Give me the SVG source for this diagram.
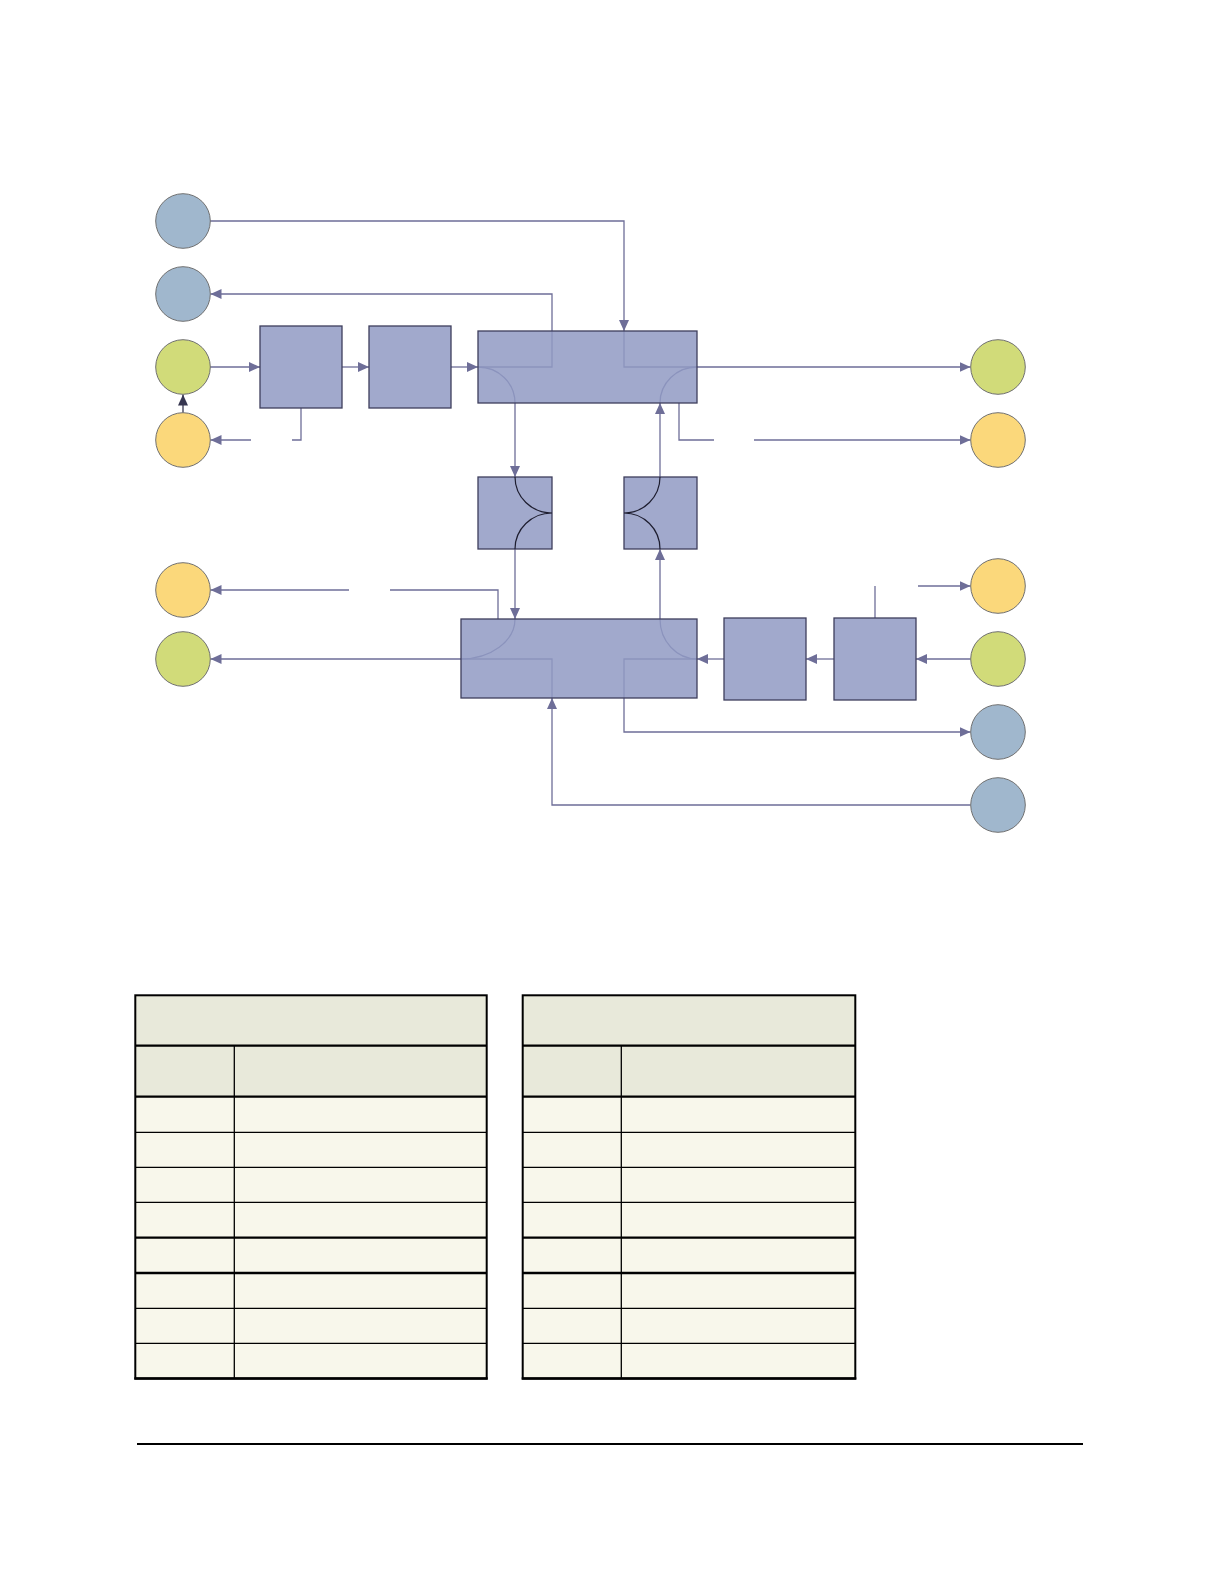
<svg xmlns="http://www.w3.org/2000/svg" width="1224" height="1584" viewBox="0 0 1224 1584">
<style>
.cn{fill:none;stroke:#6e6e98;stroke-width:1.3}
.arr{marker-end:url(#ah)}
.bx{fill:#909ac3;fill-opacity:0.85;stroke:#3e3e5c;stroke-width:1.3}
.dk{fill:none;stroke:#1e1e30;stroke-width:1.2}
.ci{stroke:#707070;stroke-width:1}
.blue{fill:#a0b7cd}
.green{fill:#d1db79}
.yellow{fill:#fbd87b}
.hd{fill:#e8e9da}
.bd{fill:#f8f7eb}
.tl{stroke:#000;fill:none}
</style>
<defs>
<marker id="ah" markerUnits="userSpaceOnUse" markerWidth="12" markerHeight="11" refX="11" refY="5" orient="auto"><path d="M0,0 L11,5 L0,10 z" fill="#6e6e98"/></marker>
<marker id="ahd" markerUnits="userSpaceOnUse" markerWidth="12" markerHeight="11" refX="11" refY="5" orient="auto"><path d="M0,0 L11,5 L0,10 z" fill="#363650"/></marker>
</defs>
<rect width="1224" height="1584" fill="#fff"/>
<g id="connectors">
<path class="cn arr" d="M210,221 H624 V331"/>
<path class="cn arr" d="M624,331 V367 H970.5"/>
<path class="cn arr" d="M478,367 H552 V294 H210.5"/>
<path class="cn arr" d="M210,367 H260"/>
<path class="cn arr" d="M342,367 H369"/>
<path class="cn arr" d="M451,367 H478"/>
<path class="cn arr" d="M478,367 A37,36 0 0 1 515,403 V477"/>
<path class="cn" d="M697,367 A37,36 0 0 0 660,403"/>
<path class="cn arr" d="M660,477 V403"/>
<path class="cn arr" d="M515,549 V619"/>
<path class="cn arr" d="M515,619 A54,40 0 0 1 461,659 H210.5"/>
<path class="cn arr" d="M970.5,659 H916"/>
<path class="cn arr" d="M834,659 H806"/>
<path class="cn arr" d="M724,659 H697"/>
<path class="cn arr" d="M697,659 A37,40 0 0 1 660,619 V549"/>
<path class="cn arr" d="M697,659 H624 V732 H970.5"/>
<path class="cn arr" d="M970.5,805 H552 V698"/>
<path class="cn" d="M552,698 V659 H461"/>
<path class="cn" d="M498,619 V590 H390"/>
<path class="cn arr" d="M349,590 H210.5"/>
<path class="cn" d="M875,618 V586"/>
<path class="cn arr" d="M918,586 H970.5"/>
<path class="cn" d="M301,408 V440 H292"/>
<path class="cn arr" d="M251,440 H210.5"/>
<path class="cn" d="M679,403 V440 H714"/>
<path class="cn arr" d="M754,440 H970.5"/>
<path d="M183,412.7 V394.5" fill="none" stroke="#363650" stroke-width="1.3" marker-end="url(#ahd)"/>
</g>
<g id="circle-l1"><circle class="ci blue" cx="183" cy="221" r="27.3"/></g>
<g id="circle-l2"><circle class="ci blue" cx="183" cy="294" r="27.3"/></g>
<g id="circle-l3"><circle class="ci green" cx="183" cy="367" r="27.3"/></g>
<g id="circle-l4"><circle class="ci yellow" cx="183" cy="440" r="27.3"/></g>
<g id="circle-l5"><circle class="ci yellow" cx="183" cy="590" r="27.3"/></g>
<g id="circle-l6"><circle class="ci green" cx="183" cy="659" r="27.3"/></g>
<g id="circle-r1"><circle class="ci green" cx="998" cy="367" r="27.3"/></g>
<g id="circle-r2"><circle class="ci yellow" cx="998" cy="440" r="27.3"/></g>
<g id="circle-r3"><circle class="ci yellow" cx="998" cy="586" r="27.3"/></g>
<g id="circle-r4"><circle class="ci green" cx="998" cy="659" r="27.3"/></g>
<g id="circle-r5"><circle class="ci blue" cx="998" cy="732" r="27.3"/></g>
<g id="circle-r6"><circle class="ci blue" cx="998" cy="805" r="27.3"/></g>
<g id="box-a"><rect class="bx" x="260" y="326" width="82" height="82"/></g>
<g id="box-b"><rect class="bx" x="369" y="326" width="82" height="82"/></g>
<g id="box-top"><rect class="bx" x="478" y="331" width="219" height="72"/></g>
<g id="box-small-l"><rect class="bx" x="478" y="477" width="74" height="72"/>
<path class="dk" d="M515,477 A37,36 0 0 0 552,513 M552,513 A37,36 0 0 0 515,549"/></g>
<g id="box-small-r"><rect class="bx" x="624" y="477" width="73" height="72"/>
<path class="dk" d="M660,477 A36,36 0 0 1 624,513 M624,513 A36,36 0 0 1 660,549"/></g>
<g id="box-bottom"><rect class="bx" x="461" y="619" width="236" height="79"/></g>
<g id="box-c"><rect class="bx" x="724" y="618" width="82" height="82"/></g>
<g id="box-d"><rect class="bx" x="834" y="618" width="82" height="82"/></g>
<g id="table-1">
<rect class="hd" x="135.3" y="995.3" width="351.4" height="101.4"/>
<rect class="bd" x="135.3" y="1096.7" width="351.4" height="281.8"/>
<g class="tl">
<path stroke-width="1.3" d="M135.3,1132.3 H486.7 M135.3,1167.3 H486.7 M135.3,1202.4 H486.7 M135.3,1308.3 H486.7 M135.3,1343.3 H486.7 M234.3,1045.7 V1378.5"/>
<path stroke-width="2.3" d="M135.3,1045.7 H486.7 M135.3,1096.7 H486.7 M135.3,1237.7 H486.7 M135.3,1273 H486.7"/>
<rect x="135.3" y="995.3" width="351.4" height="383.2" stroke-width="2"/>
<path stroke-width="2.5" d="M134.3,1378.5 H487.7"/>
</g>
</g>
<g id="table-2">
<rect class="hd" x="522.7" y="995.3" width="332.6" height="101.4"/>
<rect class="bd" x="522.7" y="1096.7" width="332.6" height="281.8"/>
<g class="tl">
<path stroke-width="1.3" d="M522.7,1132.3 H855.3 M522.7,1167.3 H855.3 M522.7,1202.4 H855.3 M522.7,1308.3 H855.3 M522.7,1343.3 H855.3 M621.3,1045.7 V1378.5"/>
<path stroke-width="2.3" d="M522.7,1045.7 H855.3 M522.7,1096.7 H855.3 M522.7,1237.7 H855.3 M522.7,1273 H855.3"/>
<rect x="522.7" y="995.3" width="332.6" height="383.2" stroke-width="2"/>
<path stroke-width="2.5" d="M521.7,1378.5 H856.3"/>
</g>
</g>
<line x1="137" y1="1444" x2="1083" y2="1444" stroke="#000" stroke-width="2"/>
</svg>
